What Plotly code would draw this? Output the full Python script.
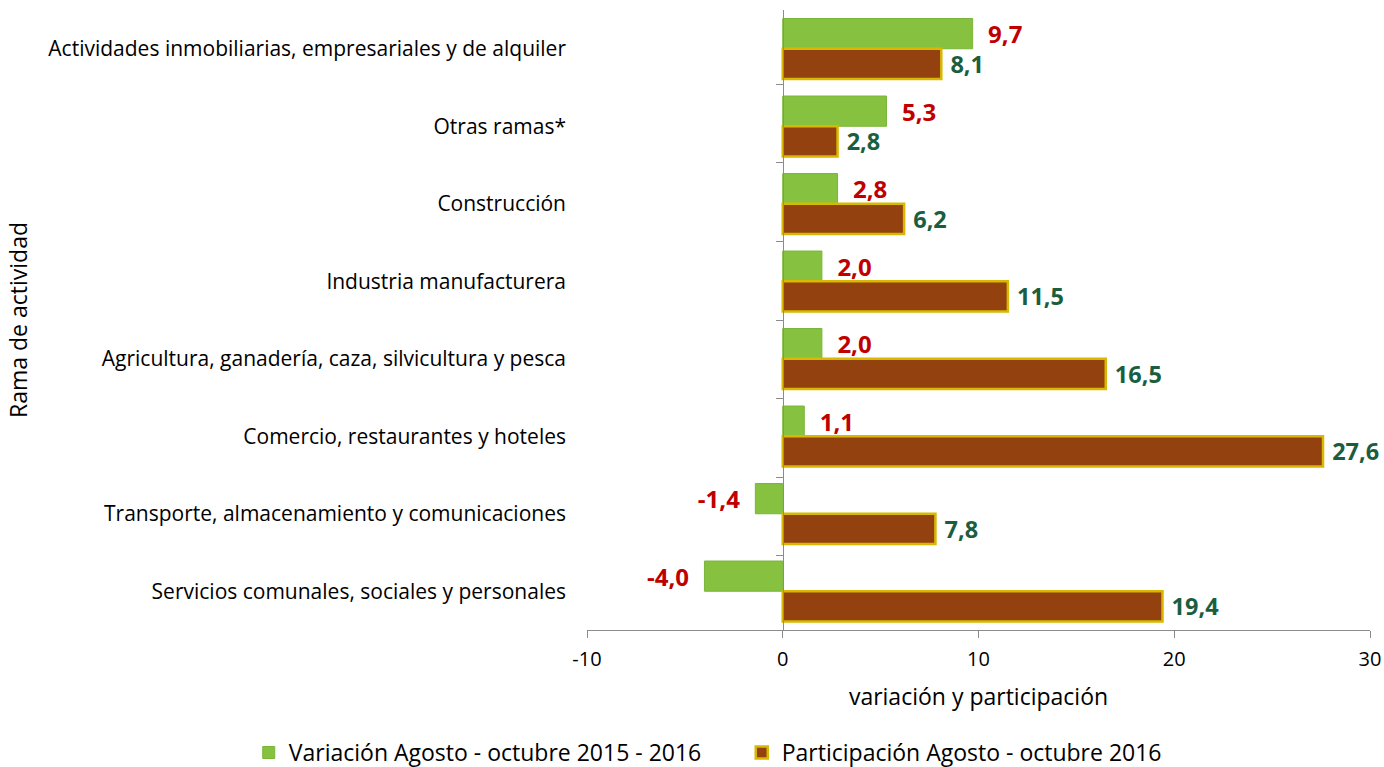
import plotly.graph_objects as go

categorias = [
    "Actividades inmobiliarias, empresariales y de alquiler",
    "Otras ramas*",
    "Construcción",
    "Industria manufacturera",
    "Agricultura, ganadería, caza, silvicultura y pesca",
    "Comercio, restaurantes y hoteles",
    "Transporte, almacenamiento y comunicaciones",
    "Servicios comunales, sociales y personales",
]
variacion = [9.7, 5.3, 2.8, 2.0, 2.0, 1.1, -1.4, -4.0]
participacion = [8.1, 2.8, 6.2, 11.5, 16.5, 27.6, 7.8, 19.4]
nombre_var = "Variación Agosto - octubre 2015 - 2016"
nombre_par = "Participación Agosto - octubre 2016"
x_ticks = [-10, 0, 10, 20, 30]


def fmt(v):
    return f"{v:.1f}".replace(".", ",")


FONT = "Open Sans"
NB = "\u00a0"

fig = go.Figure()
fig.add_trace(go.Bar(
    name=nombre_var, y=categorias, x=variacion, orientation="h",
    marker=dict(color="#86C240", line=dict(color="#7AB53A", width=1)),
    text=[fmt(v) for v in variacion],
    texttemplate=NB * 2 + "%{text}" + NB * 2, textposition="outside",
    textfont=dict(family=FONT, size=24, color="#C00000", weight="bold"),
    cliponaxis=False, constraintext="none",
))
fig.add_trace(go.Bar(
    name=nombre_par, y=categorias, x=participacion, orientation="h",
    marker=dict(color="#93420F", line=dict(color="#D8B800", width=2.5)),
    text=[fmt(v) for v in participacion],
    texttemplate=NB + "%{text}" + NB, textposition="outside",
    textfont=dict(family=FONT, size=23.5, color="#1B5E3F", weight="bold"),
    cliponaxis=False, constraintext="none",
))
# invisible trace carrying the category axis drawn at x = 0
fig.add_trace(go.Scatter(
    y=categorias, x=participacion, yaxis="y2", mode="markers",
    marker=dict(opacity=0), showlegend=False, hoverinfo="skip",
))

fig.update_layout(
    width=1384, height=767,
    paper_bgcolor="white", plot_bgcolor="white",
    separators=",.",
    barmode="group", bargap=0.22, bargroupgap=0.0,
    margin=dict(l=587, r=14, t=10, b=137, autoexpand=False),
    font=dict(family=FONT, size=21, color="#000000"),
    xaxis=dict(
        range=[-10, 30], tickvals=x_ticks, ticktext=[str(v) for v in x_ticks],
        ticks="outside", ticklen=7, automargin=True, ticklabelstandoff=4,
        tickcolor="#8C8C8C", showline=True, linecolor="#8C8C8C", linewidth=1,
        showgrid=False, zeroline=False,
        tickfont=dict(family=FONT, size=20, color="#000"),
        title=dict(text="variación y participación", standoff=17,
                   font=dict(family=FONT, size=23, color="#000")),
    ),
    yaxis=dict(
        type="category", autorange="reversed", showline=False, ticks="",
        showgrid=False, zeroline=False, ticklabelstandoff=20, automargin=True,
        tickfont=dict(family=FONT, size=21, color="#000"),
        title=dict(text="Rama de actividad", standoff=14,
                   font=dict(family=FONT, size=23, color="#000")),
    ),
    yaxis2=dict(
        type="category", autorange="reversed", overlaying="y", anchor="free",
        position=0.25, showline=True, linecolor="#8C8C8C", linewidth=1,
        ticks="outside", tickson="boundaries", ticklen=7, tickcolor="#8C8C8C",
        showticklabels=False, showgrid=False, zeroline=False,
    ),
    legend=dict(
        orientation="h", xref="paper", yref="paper",
        x=-0.432, xanchor="left", y=-0.163, yanchor="top",
        font=dict(family=FONT, size=23, color="#000"),
        itemwidth=30, tracegroupgap=0, entrywidth=448, entrywidthmode="pixels",
    ),
    showlegend=True,
)

fig.write_html("out.html", config={"displayModeBar": False},
               post_script="document.body.style.margin='0';")
